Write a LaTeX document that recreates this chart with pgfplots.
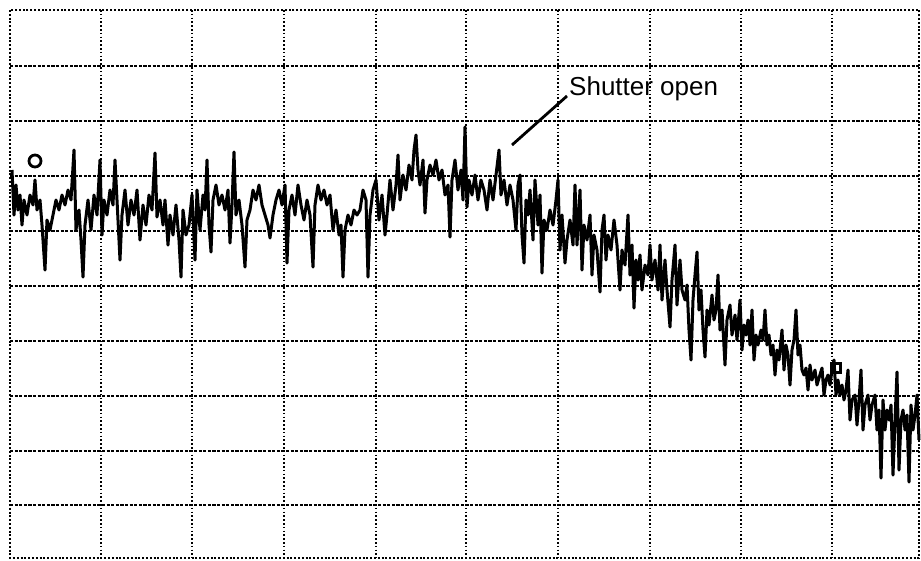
\documentclass[border=0pt]{standalone}
\usepackage{pgfplots}
\pgfplotsset{compat=1.18}
\usepackage{pgfplotstable}
\usepackage{fontspec}
\setmainfont{Liberation Sans}
\pgfplotstableread{
x y
12 170
14 215
16 185
18 210
20 195
22 225
24 200
27 215
30 195
33 205
35 180
37 210
40 200
42 225
45 270
47 220
50 230
53 215
56 200
59 210
62 195
65 205
68 190
71 200
74 150
76 230
79 210
81 240
83 277
85 225
88 200
91 230
94 195
97 215
100 160
102 235
104 200
107 215
110 190
113 205
115 160
117 200
120 260
122 215
125 190
128 225
131 200
134 215
137 190
140 240
143 205
146 225
149 195
152 210
155 153
157 217
160 200
163 225
165 200
168 245
170 215
173 235
176 205
179 240
181 277
183 210
186 235
189 225
192 195
195 260
197 190
200 230
203 195
205 210
207 160
209 225
211 252
213 200
216 185
219 205
222 195
225 210
228 190
230 243
232 205
234 152
236 215
239 200
242 225
245 267
247 220
250 210
253 190
256 200
259 185
262 205
265 215
268 225
270 238
273 215
276 200
279 190
282 205
285 185
287 263
289 210
292 195
295 215
298 185
301 205
304 220
307 200
310 215
313 267
315 205
318 185
321 200
324 190
327 205
330 195
333 230
336 210
339 235
341 225
343 277
345 230
348 215
351 225
354 210
357 215
360 210
363 190
366 200
368 277
370 215
373 190
376 180
379 220
382 195
385 235
387 215
390 180
393 210
396 185
398 155
400 200
403 175
406 190
409 165
412 180
414 150
416 135
418 170
420 185
423 160
425 213
427 180
430 165
433 175
436 160
439 180
442 170
445 195
448 185
450 237
452 180
455 160
458 190
461 170
463 200
465 127
467 207
469 180
472 195
475 175
478 200
481 180
484 190
487 210
490 180
493 200
496 175
499 150
501 195
504 180
507 205
510 185
513 200
516 230
518 185
520 175
522 235
524 263
526 200
528 215
530 190
533 240
535 180
538 225
540 195
542 273
544 220
547 230
550 210
553 225
556 200
558 180
560 250
562 215
565 263
567 240
570 220
573 245
575 185
577 245
580 190
582 270
584 225
587 240
590 215
592 275
594 235
597 250
600 292
602 230
604 215
606 260
608 235
611 250
614 220
617 245
620 290
622 250
625 265
628 215
630 275
632 245
634 308
636 260
638 280
640 255
642 290
645 265
648 275
650 245
652 280
655 260
658 290
660 245
662 300
665 260
667 290
670 327
672 280
675 245
677 305
680 260
682 290
685 300
687 285
689 330
691 360
693 300
695 275
697 252
699 310
701 290
703 330
705 357
707 310
709 325
712 295
714 320
716 310
718 275
720 330
722 310
725 365
727 320
730 305
732 335
735 315
737 340
740 300
742 350
744 325
746 335
748 320
750 345
752 310
754 360
756 335
758 345
761 330
763 340
765 310
767 345
769 335
771 355
773 345
775 375
777 350
779 360
782 330
784 370
786 345
788 355
790 385
792 350
794 340
796 310
798 355
800 345
802 370
804 375
806 368
808 390
810 365
812 380
815 370
817 385
819 378
822 368
824 395
826 380
828 375
830 385
832 370
834 360
836 395
838 380
840 395
842 385
844 400
846 390
848 370
850 420
852 400
855 395
857 425
859 400
861 370
863 430
865 405
868 395
870 420
872 405
875 395
877 430
879 410
881 478
883 400
885 430
887 410
889 420
891 405
893 475
895 420
897 372
899 470
901 420
903 410
905 430
907 415
909 482
911 405
913 430
915 415
917 395
919 440
}\trace
\begin{document}
\begin{tikzpicture}
\path[use as bounding box] (0,0) rectangle (921pt,560pt);
\begin{axis}[
  at={(10pt,2pt)}, anchor=south west,
  scale only axis, width=909pt, height=548pt,
  xmin=10, xmax=919, ymin=10, ymax=558, y dir=reverse,
  xtick={101,192,284,376,466,558,650,741,832},
  ytick={66,121,176,231,286,341,396,451,505},
  xticklabels={}, yticklabels={},
  major tick length=0pt,
  grid=major,
  x grid style={black, line width=2.2pt, dash pattern=on 1.6pt off 2.2pt},
  y grid style={black, line width=2.2pt, dash pattern=on 3.2pt off 1.4pt},
  axis line style={black, line width=2.2pt, dash pattern=on 2pt off 1.8pt},
  clip=false,
]
\addplot[black, line width=3pt, line join=round] table[x=x, y=y] {\trace};
\addplot[only marks, mark=o, mark size=6pt, mark options={line width=2.8pt, black}] coordinates {(35,161)};
\addplot[only marks, mark=square, mark size=4.5pt, mark options={line width=2.4pt, black}] coordinates {(836,368)};
\draw[black, line width=2.8pt] (axis cs:512,145) -- (axis cs:567,96);
\node[anchor=west, inner sep=0pt, font=\fontsize{26}{30}\selectfont] at (axis cs:569,89) {Shutter open};
\end{axis}
\end{tikzpicture}
\end{document}
